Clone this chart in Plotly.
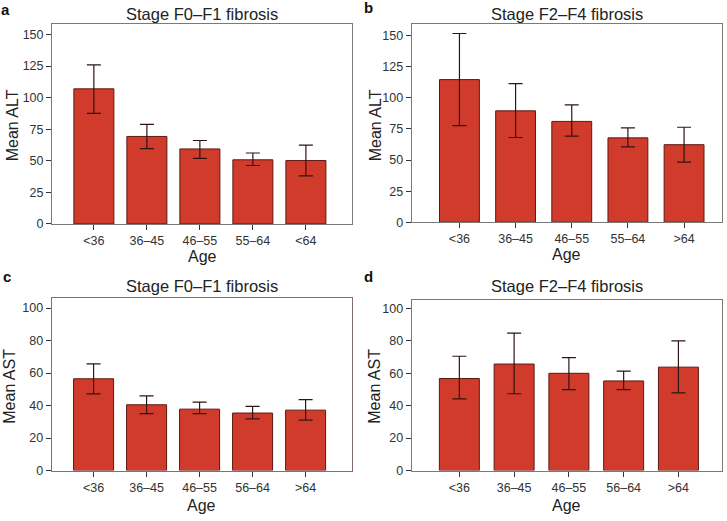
import plotly.graph_objects as go

W, H = 727, 521

ages_a = ["<36", "36–45", "46–55", "55–64", "<64"]
ages_b = ["<36", "36–45", "46–55", "55–64", ">64"]
ages_c = ["<36", "36–45", "46–55", "56–64", ">64"]
ages_d = ["<36", "36–45", "46–55", "56–64", ">64"]

alt_f01_mean = [107, 69.3, 59.4, 50.8, 50.2]
alt_f01_hi = [126, 78.9, 66.1, 56.2, 62.5]
alt_f01_lo = [87.5, 59.6, 52, 46.3, 38]

alt_f24_mean = [114.6, 89.5, 81, 67.8, 62.3]
alt_f24_hi = [151.6, 111.4, 94.3, 75.8, 76.3]
alt_f24_lo = [77.6, 68.1, 69.2, 60.5, 48.3]

ast_f01_mean = [56.5, 40.5, 37.8, 35.4, 37.2]
ast_f01_hi = [65.6, 46, 42.1, 39.5, 43.7]
ast_f01_lo = [47.2, 35, 35, 31.8, 31.1]

ast_f24_mean = [56.7, 65.6, 59.9, 55.2, 63.7]
ast_f24_hi = [70.4, 84.6, 69.6, 61.3, 79.9]
ast_f24_lo = [44.1, 47.3, 49.8, 49.8, 47.8]

panels = [
    dict(cats=ages_a, m=alt_f01_mean, hi=alt_f01_hi, lo=alt_f01_lo,
         title="Stage F0–F1 fibrosis", ytitle="Mean ALT", letter="a",
         px=(52, 352), py=(24, 227), yr=158.6, xr=(-0.79, 4.87), bw=0.755,
         ticks=[0, 25, 50, 75, 100, 125, 150], box="#7a7a7a",
         title_y=14, age_y=260, yt_x=12, yt_y=127, let_xy=(5.5, 10)),
    dict(cats=ages_b, m=alt_f24_mean, hi=alt_f24_hi, lo=alt_f24_lo,
         title="Stage F2–F4 fibrosis", ytitle="Mean ALT", letter="b",
         px=(411.7, 721.7), py=(24, 225.3), yr=159.5, xr=(-0.85, 4.67), bw=0.71,
         ticks=[0, 25, 50, 75, 100, 125, 150], box="#7a7a7a",
         title_y=14, age_y=258, yt_x=375, yt_y=127, let_xy=(368, 8)),
    dict(cats=ages_c, m=ast_f01_mean, hi=ast_f01_hi, lo=ast_f01_lo,
         title="Stage F0–F1 fibrosis", ytitle="Mean AST", letter="c",
         px=(51.7, 351.7), py=(301.7, 477), yr=106.4, xr=(-0.79, 4.87), bw=0.755,
         ticks=[0, 20, 40, 60, 80, 100], box="#8a6c6c",
         title_y=290, age_y=512, yt_x=10, yt_y=392, let_xy=(7, 280)),
    dict(cats=ages_d, m=ast_f24_mean, hi=ast_f24_hi, lo=ast_f24_lo,
         title="Stage F2–F4 fibrosis", ytitle="Mean AST", letter="d",
         px=(411.7, 721.7), py=(304.3, 477), yr=104.9, xr=(-0.87, 4.79), bw=0.73,
         ticks=[0, 20, 40, 60, 80, 100], box="#7a7a7a",
         title_y=290, age_y=512, yt_x=375, yt_y=392, let_xy=(368, 280.5)),
]

FONT = "Liberation Sans, Arial, Helvetica, sans-serif"
fig = go.Figure()
layout = dict(width=W, height=H, margin=dict(l=0, r=0, t=0, b=0),
              paper_bgcolor="white", plot_bgcolor="white", showlegend=False,
              font=dict(family=FONT, color="#222"))
annotations = []


def px_x(v):
    return v / W


def px_y(v):
    return 1 - v / H


for i, p in enumerate(panels, start=1):
    xa = "x" if i == 1 else f"x{i}"
    ya = "y" if i == 1 else f"y{i}"
    xk = "xaxis" if i == 1 else f"xaxis{i}"
    yk = "yaxis" if i == 1 else f"yaxis{i}"
    plus = [h - m for h, m in zip(p["hi"], p["m"])]
    minus = [m - l for m, l in zip(p["m"], p["lo"])]
    fig.add_trace(go.Bar(
        x=list(range(len(p["cats"]))), y=p["m"], width=p["bw"],
        xaxis=xa, yaxis=ya,
        marker=dict(color="#d13b2c", line=dict(color="#5e1812", width=1)),
        error_y=dict(type="data", symmetric=False, array=plus, arrayminus=minus,
                     color="#2e1414", thickness=1.2, width=7),
    ))
    x0, x1 = p["px"]
    yt, yb = p["py"]
    layout[xk] = dict(domain=[px_x(x0), px_x(x1)], range=list(p["xr"]), anchor=ya,
                      tickmode="array", tickvals=list(range(len(p["cats"]))),
                      ticktext=p["cats"], ticks="outside", ticklen=5, tickcolor="#333",
                      showline=True, linecolor=p["box"], linewidth=1, mirror=True,
                      showgrid=False, zeroline=False,
                      tickfont=dict(size=12.5, color="#333", family=FONT))
    layout[yk] = dict(domain=[px_y(yb), px_y(yt)], range=[0, p["yr"]], anchor=xa,
                      tickmode="array", tickvals=p["ticks"], ticks="outside", ticklen=5,
                      tickcolor="#333", showline=True, linecolor=p["box"], linewidth=1,
                      mirror=True, showgrid=False, zeroline=False,
                      tickfont=dict(size=12.5, color="#333", family=FONT))
    cx = (x0 + x1) / 2
    annotations.append(dict(text=p["title"], x=px_x(cx), y=px_y(p["title_y"]),
                            xref="paper", yref="paper", showarrow=False,
                            xanchor="center", yanchor="middle",
                            font=dict(size=16.5, color="#222", family=FONT)))
    annotations.append(dict(text="Age", x=px_x(cx), y=px_y(p["age_y"]),
                            xref="paper", yref="paper", showarrow=False,
                            xanchor="center", yanchor="middle",
                            font=dict(size=16, color="#222", family=FONT)))
    annotations.append(dict(text=p["ytitle"], x=px_x(p["yt_x"]), y=px_y(p["yt_y"]),
                            xref="paper", yref="paper", showarrow=False, textangle=-90,
                            xanchor="center", yanchor="middle",
                            font=dict(size=16, color="#222", family=FONT)))
    lx, ly = p["let_xy"]
    annotations.append(dict(text="<b>" + p["letter"] + "</b>", x=px_x(lx), y=px_y(ly),
                            xref="paper", yref="paper", showarrow=False,
                            xanchor="center", yanchor="middle",
                            font=dict(size=15, color="#111", family=FONT)))

layout["annotations"] = annotations
fig.update_layout(**layout)
fig.write_html("out.html",
               config={"displayModeBar": False},
               post_script="document.body.style.margin='0';document.body.style.padding='0';")
